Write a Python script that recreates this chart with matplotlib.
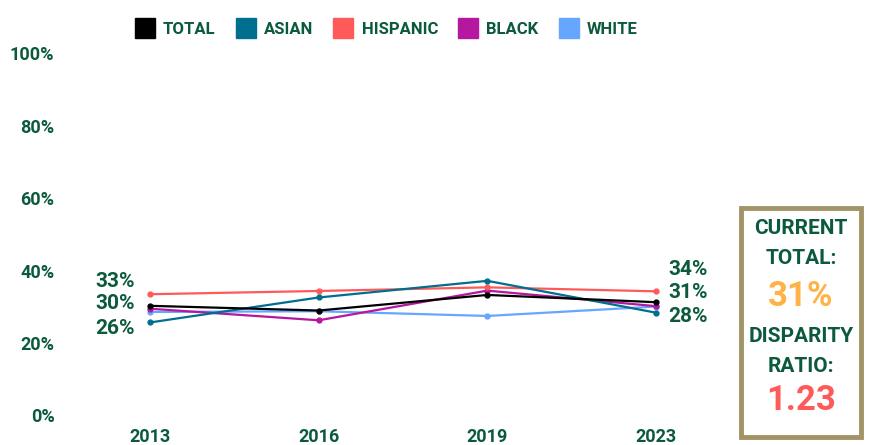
import matplotlib
matplotlib.use("Agg")
import matplotlib.pyplot as plt
from matplotlib.patches import Rectangle
from matplotlib.lines import Line2D

years = ["2013", "2016", "2019", "2023"]
total = [30.3, 29.0, 33.3, 31.3]
asian = [25.7, 32.6, 37.2, 28.4]
hispanic = [33.5, 34.4, 35.4, 34.3]
black = [29.5, 26.3, 34.5, 30.2]
white = [28.6, 28.8, 27.5, 30.1]
series_names = ["TOTAL", "ASIAN", "HISPANIC", "BLACK", "WHITE"]
yticks = [0, 20, 40, 60, 80, 100]
left_labels = ["33%", "30%", "26%"]
right_labels = ["34%", "31%", "28%"]
current_total = "31%"
disparity_ratio = "1.23"

GREEN = "#0b5a3c"
colors = ["#000000", "#006f8f", "#ff5a5a", "#b5179e", "#66a6ff"]
FONT = ["Roboto", "DejaVu Sans"]
plt.rcParams["font.family"] = FONT

W, H = 874, 445
fig = plt.figure(figsize=(W / 100, H / 100), dpi=100)

# axes placed in pixels: x=0 -> 150px, x=3 -> 656px ; y 0 -> 415.5px, 100 -> 53.5px
ax_l, ax_r = 60, 720
ax = fig.add_axes([ax_l / W, (H - 415.5) / H, (ax_r - ax_l) / W, 362 / H])
ppu = (656 - 150) / 3
ax.set_xlim(-(150 - ax_l) / ppu, 3 + (ax_r - 656) / ppu)
ax.set_ylim(0, 100)

xs = list(range(len(years)))
data = [total, asian, hispanic, black, white]
# draw order: white, black, hispanic, asian, total on top
for i in [4, 3, 2, 1, 0]:
    ax.plot(xs, data[i], color=colors[i], lw=1.6, marker="o", ms=3.5, zorder=3 + (4 - i))

for s in ax.spines.values():
    s.set_visible(False)
ax.set_xticks(xs)
ax.set_xticklabels(years)
ax.set_yticks(yticks)
ax.set_yticklabels([f"{v}%" for v in yticks])
ax.tick_params(length=0, colors=GREEN, labelsize=13)
ax.tick_params(axis="x", pad=9)
ax.tick_params(axis="y", pad=4)
for t in ax.get_xticklabels() + ax.get_yticklabels():
    t.set_fontweight("bold")

# endpoint labels
left_vals = [hispanic[0], total[0], asian[0]]
left_off = [9, 1.5, -4.5]
for lab, v, off in zip(left_labels, left_vals, left_off):
    ax.annotate(lab, (0, v), xytext=(-11, off), textcoords="offset points",
                ha="right", va="center", fontsize=15, color=GREEN, fontweight="bold")
right_vals = [hispanic[3], total[3], asian[3]]
right_off = [16, 7, -3]
for lab, v, off in zip(right_labels, right_vals, right_off):
    ax.annotate(lab, (3, v), xytext=(9, off), textcoords="offset points",
                ha="left", va="center", fontsize=15, color=GREEN, fontweight="bold")

# legend
handles = [Line2D([], [], ls="", marker="s", ms=15, color=c) for c in colors]
leg = fig.legend(handles, series_names, loc="center", bbox_to_anchor=(383 / W, 1 - 29 / H),
                 ncol=5, frameon=False, handletextpad=0.1, columnspacing=0.8,
                 prop={"family": FONT, "size": 12, "weight": "bold"})
for t in leg.get_texts():
    t.set_color(GREEN)

# summary box
bx0, by0, bw, bh = 741, 208, 120, 229
fig.patches.append(Rectangle((bx0 / W, 1 - (by0 + bh) / H), bw / W, bh / H,
                             transform=fig.transFigure, fill=False,
                             edgecolor="#a39467", lw=3.5))
cx = (bx0 + bw / 2) / W
fig.text(cx, 1 - 229 / H, "CURRENT", ha="center", va="center", color=GREEN, fontsize=15, fontweight="bold")
fig.text(cx, 1 - 258 / H, "TOTAL:", ha="center", va="center", color=GREEN, fontsize=15, fontweight="bold")
fig.text(cx, 1 - 297 / H, current_total, ha="center", va="center", color="#ffb347", fontsize=25, fontweight="bold")
fig.text(cx, 1 - 336 / H, "DISPARITY", ha="center", va="center", color=GREEN, fontsize=15, fontweight="bold")
fig.text(cx, 1 - 366 / H, "RATIO:", ha="center", va="center", color=GREEN, fontsize=15, fontweight="bold")
fig.text(cx, 1 - 400 / H, disparity_ratio, ha="center", va="center", color="#ff5a5a", fontsize=25, fontweight="bold")

fig.savefig("out.png", dpi=100)
